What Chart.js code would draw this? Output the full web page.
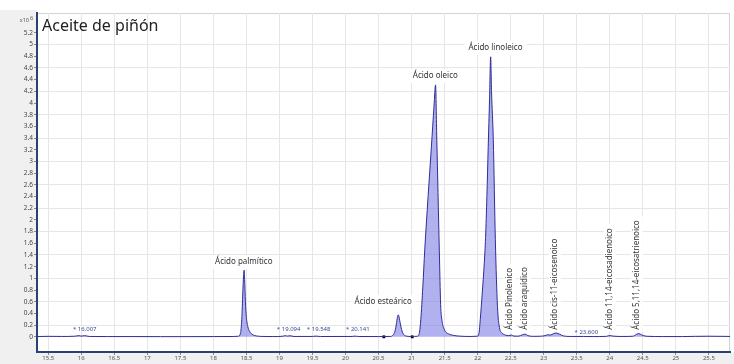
<!DOCTYPE html>
<html>
<head>
<meta charset="utf-8">
<script src="https://cdn.jsdelivr.net/npm/chart.js@4.4.1/dist/chart.umd.min.js"></script>
<style>
  html, body { margin: 0; padding: 0; background: #fff; }
</style>
</head>
<body>
<canvas id="chromChart" width="734" height="364"></canvas>
<script>
// retention time (min) and abundance (x10^6)
const rt = [15.33, 15.5, 15.7, 15.9, 15.97, 16.0, 16.05, 16.12, 16.4, 16.8, 17.2, 17.6, 18.0, 18.3,
  18.38, 18.41, 18.43, 18.445, 18.457, 18.465, 18.473, 18.485, 18.5, 18.52, 18.55, 18.59, 18.65, 18.75,
  18.9, 19.05, 19.09, 19.12, 19.16, 19.22, 19.5, 19.55, 19.62, 20.1, 20.14, 20.2, 20.5,
  20.68, 20.72, 20.75, 20.77, 20.785, 20.797, 20.81, 20.83, 20.855, 20.88, 20.92, 21.0,
  21.09, 21.12, 21.14, 21.17, 21.2, 21.25, 21.3, 21.34, 21.363, 21.38, 21.4, 21.42, 21.44, 21.46,
  21.49, 21.52, 21.57, 21.63, 21.72, 21.9,
  21.99, 22.02, 22.04, 22.07, 22.1, 22.12, 22.14, 22.16, 22.18, 22.197, 22.21, 22.237, 22.268, 22.3,
  22.33, 22.37, 22.42, 22.47, 22.51, 22.55, 22.62, 22.68, 22.72, 22.76, 22.85, 22.95,
  23.02, 23.06, 23.1, 23.15, 23.19, 23.24, 23.3, 23.4, 23.6, 23.75, 23.95, 24.0, 24.05, 24.2,
  24.35, 24.4, 24.44, 24.48, 24.55, 24.8, 25.1, 25.3, 25.5, 25.7, 25.82];
const abundance = [0.005, 0.008, 0.006, 0.01, 0.02, 0.012, 0.02, 0.006, 0.004, 0.004, 0.003, 0.003, 0.004, 0.005,
  0.01, 0.06, 0.3, 0.75, 1.05, 1.14, 0.98, 0.6, 0.33, 0.18, 0.09, 0.04, 0.015, 0.006,
  0.004, 0.01, 0.02, 0.012, 0.018, 0.006, 0.006, 0.012, 0.005, 0.006, 0.012, 0.005, 0.004,
  0.006, 0.03, 0.1, 0.22, 0.33, 0.376, 0.34, 0.22, 0.1, 0.04, 0.012, 0.006,
  0.01, 0.08, 0.3, 0.85, 1.5, 2.4, 3.25, 3.95, 4.31, 3.47, 2.47, 1.47, 0.55, 0.28,
  0.14, 0.08, 0.045, 0.025, 0.012, 0.006,
  0.01, 0.06, 0.3, 0.75, 1.25, 1.7, 2.4, 3.25, 4.05, 4.79, 4.2, 3.37, 1.66, 0.52,
  0.16, 0.065, 0.03, 0.02, 0.03, 0.012, 0.012, 0.035, 0.045, 0.02, 0.008, 0.01,
  0.02, 0.035, 0.03, 0.055, 0.065, 0.045, 0.015, 0.006, 0.006, 0.004, 0.008, 0.022, 0.012, 0.006,
  0.01, 0.04, 0.055, 0.035, 0.01, 0.004, 0.004, 0.008, 0.01, 0.008, 0.006];

// integration markers
const markerRt = [20.58, 21.01];
const markerVal = [0, 0];

// peak names, horizontal (label centre rt, label centre value)
const peakNames = ['Ácido palmítico', 'Ácido esteárico', 'Ácido oleico', 'Ácido linoleico'];
const peakLabelRt = [18.46, 20.57, 21.36, 22.27];
const peakLabelVal = [1.28, 0.60, 4.46, 4.94];

// minor peak names, vertical
const minorNames = ['Ácido Pinolenico', 'Ácido araquídico', 'Ácido cis-11-eicosenoico',
  'Ácido 11,14-eicosadienoico', 'Ácido 5,11,14-eicosatrienoico'];
const minorRt = [22.48, 22.72, 23.17, 24.0, 24.41];
const minorVal = [0.12, 0.12, 0.12, 0.12, 0.12];

// unidentified peaks
const unknownRt = [16.007, 19.094, 19.548, 20.141, 23.600];
const unknownVal = [0.12, 0.12, 0.12, 0.12, 0.08];

const xTicks = [15.5, 16, 16.5, 17, 17.5, 18, 18.5, 19, 19.5, 20, 20.5, 21, 21.5, 22, 22.5, 23, 23.5, 24, 24.5, 25, 25.5];
const yTicks = [0, 0.2, 0.4, 0.6, 0.8, 1, 1.2, 1.4, 1.6, 1.8, 2, 2.2, 2.4, 2.6, 2.8, 3, 3.2, 3.4, 3.6, 3.8, 4, 4.2, 4.4, 4.6, 4.8, 5, 5.2];

const FONT = '"Noto Sans", sans-serif';

const decor = {
  id: 'decor',
  beforeDraw(chart) {
    const { ctx, chartArea: a, width, height } = chart;
    ctx.save();
    ctx.fillStyle = '#ffffff';
    ctx.fillRect(0, 0, width, height);
    ctx.fillStyle = '#f0f0f0';
    ctx.fillRect(0, a.top - 3, a.left, height);
    ctx.fillRect(0, a.bottom, width, height - a.bottom);
    ctx.fillStyle = '#ffffff';
    ctx.fillRect(a.left, a.top, a.right - a.left, a.bottom - a.top);
    ctx.strokeStyle = '#d4d4d4';
    ctx.lineWidth = 1;
    ctx.strokeRect(a.left + 0.5, a.top + 0.5, a.right - a.left - 1, a.bottom - a.top);
    ctx.restore();
  },
  beforeDatasetsDraw(chart) {
    const { ctx, scales: { x, y } } = chart;
    ctx.save();
    ctx.font = '8px ' + FONT;
    ctx.textBaseline = 'middle';
    // horizontal peak labels
    peakNames.forEach((t, i) => {
      const px = x.getPixelForValue(peakLabelRt[i]);
      const py = y.getPixelForValue(peakLabelVal[i]);
      const w = ctx.measureText(t).width;
      ctx.fillStyle = '#ffffff';
      ctx.fillRect(px - w / 2 - 4, py - 7, w + 8, 14);
      ctx.fillStyle = '#333333';
      ctx.textAlign = 'center';
      ctx.fillText(t, px, py);
    });
    // vertical labels
    minorNames.forEach((t, i) => {
      const px = x.getPixelForValue(minorRt[i]);
      const py = y.getPixelForValue(minorVal[i]);
      const w = ctx.measureText(t).width;
      ctx.save();
      ctx.translate(px, py);
      ctx.rotate(-Math.PI / 2);
      ctx.fillStyle = '#ffffff';
      ctx.fillRect(-2, -6, w + 6, 12);
      ctx.fillStyle = '#333333';
      ctx.textAlign = 'left';
      ctx.fillText(t, 0, 0);
      ctx.restore();
    });
    // unidentified
    ctx.font = '6px ' + FONT;
    ctx.fillStyle = '#3b4a99';
    ctx.textAlign = 'center';
    unknownRt.forEach((v, i) => {
      ctx.fillText('* ' + v.toFixed(3), x.getPixelForValue(v) + 3, y.getPixelForValue(unknownVal[i]));
    });
    ctx.restore();
  },
  afterDraw(chart) {
    const { ctx, chartArea: a } = chart;
    ctx.save();
    ctx.fillStyle = '#222222';
    ctx.font = '16px ' + FONT;
    ctx.textAlign = 'left';
    ctx.textBaseline = 'alphabetic';
    ctx.fillText('Aceite de piñón', a.left + 5, a.top + 18);
    ctx.fillStyle = '#555555';
    ctx.font = '5.5px ' + FONT;
    ctx.textAlign = 'right';
    ctx.fillText('x10', 29, 22);
    ctx.textAlign = 'left';
    ctx.fillText('6', 30, 20);
    ctx.restore();
  }
};

new Chart(document.getElementById('chromChart'), {
  type: 'line',
  data: {
    datasets: [{
      label: 'TIC',
      data: rt.map((v, i) => ({ x: v, y: abundance[i] })),
      borderColor: '#2e2e96',
      borderWidth: 1,
      backgroundColor: 'rgba(125, 125, 228, 0.6)',
      fill: 'origin',
      pointRadius: 0,
      cubicInterpolationMode: 'monotone'
    }, {
      label: 'markers',
      type: 'scatter',
      data: markerRt.map((v, i) => ({ x: v, y: markerVal[i] })),
      pointStyle: 'rect',
      pointRadius: 2,
      backgroundColor: '#000000',
      borderColor: '#000000',
      borderWidth: 0
    }]
  },
  options: {
    responsive: false,
    animation: false,
    layout: { padding: { top: 13, right: 2, left: 0, bottom: 0 } },
    plugins: { legend: { display: false }, tooltip: { enabled: false }, title: { display: false } },
    scales: {
      x: {
        type: 'linear',
        min: 15.33,
        max: 25.82,
        afterBuildTicks: s => { s.ticks = xTicks.map(v => ({ value: v })); },
        afterFit: s => { s.height = 12; },
        ticks: {
          autoSkip: false, maxRotation: 0, padding: 0,
          font: { size: 6, family: FONT }, color: '#555555',
          callback: v => String(v)
        },
        grid: { color: '#e6e6e6', tickLength: 3, tickColor: '#888888' },
        border: { color: '#2b4170', width: 2 }
      },
      y: {
        min: -0.26,
        max: 5.54,
        afterBuildTicks: s => { s.ticks = yTicks.map(v => ({ value: v })); },
        afterFit: s => { s.width = 37; },
        ticks: {
          autoSkip: false, padding: 1,
          font: { size: 6.5, family: FONT }, color: '#444444',
          callback: v => String(v)
        },
        grid: {
          color: c => (Math.round(c.tick.value / 0.2) % 2 === 1 ? '#e6e6e6' : 'rgba(0,0,0,0)'),
          tickLength: 3,
          tickColor: '#888888'
        },
        border: { color: '#2b4170', width: 2 }
      }
    }
  },
  plugins: [decor]
});
</script>
</body>
</html>
